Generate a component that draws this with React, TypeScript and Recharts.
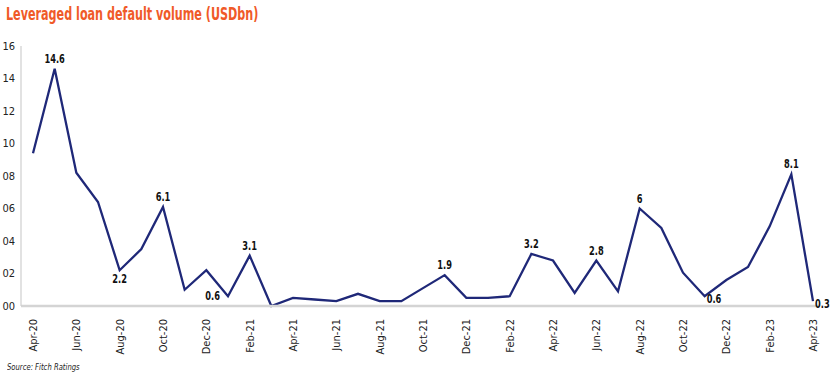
import { LabelList, Line, LineChart, XAxis, YAxis } from "recharts";

const months = [
  "Apr-20", "May-20", "Jun-20", "Jul-20", "Aug-20", "Sep-20", "Oct-20", "Nov-20", "Dec-20",
  "Jan-21", "Feb-21", "Mar-21", "Apr-21", "May-21", "Jun-21", "Jul-21", "Aug-21", "Sep-21",
  "Oct-21", "Nov-21", "Dec-21", "Jan-22", "Feb-22", "Mar-22", "Apr-22", "May-22", "Jun-22",
  "Jul-22", "Aug-22", "Sep-22", "Oct-22", "Nov-22", "Dec-22", "Jan-23", "Feb-23", "Mar-23",
  "Apr-23",
];

const defaultVolume = [
  9.4, 14.6, 8.2, 6.4, 2.2, 3.5, 6.1, 1.0, 2.2,
  0.6, 3.1, 0, 0.5, 0.4, 0.3, 0.75, 0.3, 0.3,
  1.1, 1.9, 0.5, 0.5, 0.6, 3.2, 2.8, 0.8, 2.8,
  0.9, 6, 4.8, 2.05, 0.6, 1.6, 2.4, 4.9, 8.1,
  0.3,
];

const yTicks = [0, 2, 4, 6, 8, 10, 12, 14, 16];

// months whose value is printed next to the point
const labelledMonths = [
  "May-20", "Aug-20", "Oct-20", "Jan-21", "Feb-21", "Nov-21",
  "Mar-22", "Jun-22", "Aug-22", "Nov-22", "Mar-23", "Apr-23",
];

const FONT = "'Liberation Sans Narrow', 'DejaVu Sans Condensed', 'Roboto', sans-serif";

const data = months.map((m, i) => ({ month: m, value: defaultVolume[i] }));

// where each label sits relative to its point
const placement: Record<string, "above" | "below" | "left" | "right"> = {
  "Aug-20": "below",
  "Jan-21": "left",
  "Nov-22": "right",
  "Apr-23": "right",
};

function PointLabel(props: any) {
  const { x, y, index } = props;
  const m = months[index];
  if (!labelledMonths.includes(m)) return null;
  const v = defaultVolume[index];
  const where = placement[m] ?? "above";
  let tx = x;
  let ty = y - 6;
  let anchor: "middle" | "start" | "end" = "middle";
  if (where === "below") ty = y + 13;
  if (where === "left") {
    tx = x - 8;
    ty = y + 4;
    anchor = "end";
  }
  if (where === "right") {
    tx = x + 2;
    ty = y + 7;
    anchor = "start";
  }
  return (
    <text
      transform={`translate(${tx},${ty}) scale(0.8,1)`}
      textAnchor={anchor}
      fontSize={11.5}
      fontWeight="bold"
      fill="#111"
      fontFamily={FONT}
    >
      {String(v)}
    </text>
  );
}

function MonthTick(props: any) {
  const { x, y, payload } = props;
  return (
    <text
      transform={`translate(${x},${y + 5}) rotate(-90)`}
      textAnchor="end"
      dy="0.35em"
      fontSize={11}
      fill="#222"
      fontFamily={FONT}
    >
      {payload.value}
    </text>
  );
}

export default function App() {
  return (
    <div style={{ position: "fixed", left: 0, top: 0, width: 830, height: 382, background: "#fff" }}>
      <div
        style={{
          position: "absolute",
          left: 6,
          top: 3,
          fontFamily: FONT,
          fontWeight: "bold",
          fontSize: 18,
          color: "#F05A28",
          whiteSpace: "nowrap",
          transform: "scaleX(0.69)",
          transformOrigin: "left top",
        }}
      >
        Leveraged loan default volume (USDbn)
      </div>
      <LineChart
        width={830}
        height={382}
        data={data}
        margin={{ top: 46, right: 10, bottom: 26, left: 0 }}
        style={{ overflow: "visible" }}
      >
        <XAxis
          dataKey="month"
          interval={1}
          height={50}
          tick={<MonthTick />}
          tickLine={false}
          axisLine={{ stroke: "#D4D4D4", strokeWidth: 2.5 }}
          padding={{ left: 12, right: 7 }}
        />
        <YAxis
          domain={[0, 16]}
          ticks={yTicks}
          width={21}
          tickLine={false}
          tickSize={4}
          axisLine={{ stroke: "#CFCFCF", strokeWidth: 1.2 }}
          tickFormatter={(v: number) => String(v).padStart(2, "0")}
          tick={{ fontSize: 11, fill: "#222", fontFamily: FONT }}
        />
        <Line
          type="linear"
          dataKey="value"
          stroke="#1F2878"
          strokeWidth={2.3}
          dot={false}
          isAnimationActive={false}
        >
          <LabelList dataKey="value" content={<PointLabel />} />
        </Line>
      </LineChart>
      <div
        style={{
          position: "absolute",
          left: 7,
          top: 361,
          fontFamily: FONT,
          fontStyle: "italic",
          fontSize: 9.5,
          color: "#222",
          whiteSpace: "nowrap",
          transform: "scaleX(0.8)",
          transformOrigin: "left top",
        }}
      >
        Source: Fitch Ratings
      </div>
    </div>
  );
}
